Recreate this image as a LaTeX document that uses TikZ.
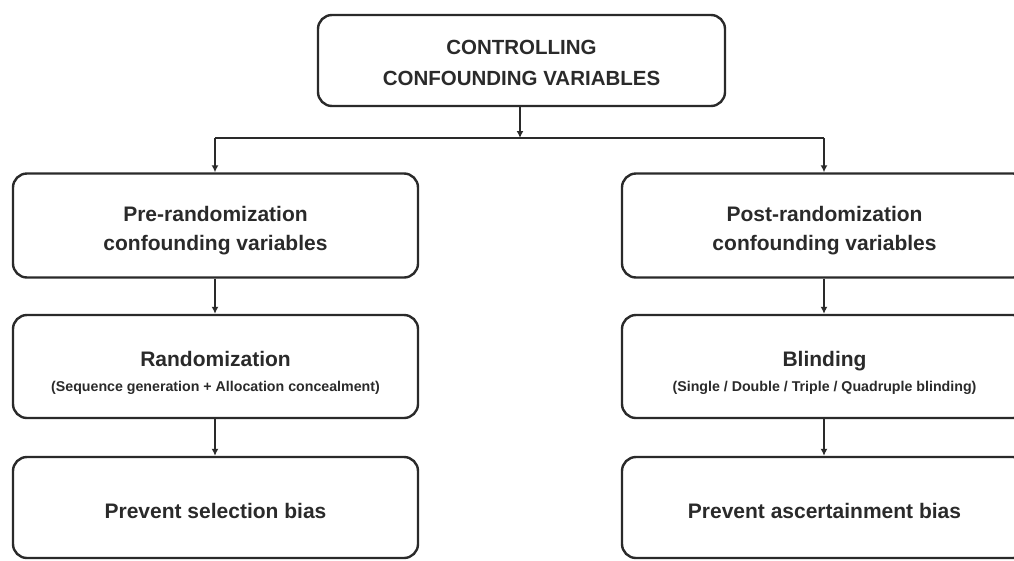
\documentclass[tikz,border=0pt]{standalone}
\usepackage{fontspec}
\setmainfont{Liberation Sans}
\usetikzlibrary{arrows.meta}
\definecolor{ink}{HTML}{2A2A2A}
\newcommand\subfnt{\bfseries\fontsize{14.2}{16}\selectfont}
\tikzset{
  box/.style={draw=ink, line width=2.4pt, rounded corners=14pt, minimum width=405pt},
  txt/.style={align=center, text=ink, inner sep=0pt, font=\bfseries\fontsize{21}{29}\selectfont},
  conn/.style={draw=ink, line width=2pt, -{Latex[length=7pt,width=7pt]}},
  plain/.style={draw=ink, line width=2pt}
}
\begin{document}
\begin{tikzpicture}[x=1pt,y=-1pt]
\useasboundingbox (0,0) rectangle (1014,560);
\begin{scope}
\clip (0,0) rectangle (1014,560);
\node[box, minimum width=407pt, minimum height=91pt] (top) at (521.5,60.5) {};
\node[box, minimum height=104pt] (l1) at (215.5,225.5) {};
\node[box, minimum height=104pt] (r1) at (824.5,225.5) {};
\node[box, minimum height=103pt] (l2) at (215.5,366.5) {};
\node[box, minimum height=103pt] (r2) at (824.5,366.5) {};
\node[box, minimum height=101pt] (l3) at (215.5,507.5) {};
\node[box, minimum height=101pt] (r3) at (824.5,507.5) {};
\end{scope}
\node[txt, font=\bfseries\fontsize{20.5}{31}\selectfont] (topt) at ([yshift=-2pt]top.center) {CONTROLLING\\CONFOUNDING VARIABLES};
\node[txt] (l1t) at ([yshift=-5pt]l1.center) {Pre-randomization\\confounding variables};
\node[txt] (r1t) at ([yshift=-5pt]r1.center) {Post-randomization\\confounding variables};
\node[txt] (l2t) at ([yshift=-6pt]l2.center) {Randomization\\[-4pt]{\subfnt (Sequence generation + Allocation concealment)}};
\node[txt] (r2t) at ([yshift=-6pt]r2.center) {Blinding\\[-4pt]{\subfnt (Single / Double / Triple / Quadruple blinding)}};
\node[txt] (l3t) at ([yshift=-3pt]l3.center) {Prevent selection bias};
\node[txt] (r3t) at ([yshift=-3pt]r3.center) {Prevent ascertainment bias};
\coordinate (split) at (520,138);
\coordinate (lc) at (215,138);
\coordinate (rc) at (824,138);
\draw[conn] (top.south -| split) -- (split);
\draw[plain] (lc) -- (rc);
\draw[conn] (lc) -- (lc |- l1.north);
\draw[conn] (rc) -- (rc |- r1.north);
\draw[conn] (l1.south -| lc) -- (l2.north -| lc);
\draw[conn] (r1.south -| rc) -- (r2.north -| rc);
\draw[conn] (l2.south -| lc) -- (l3.north -| lc);
\draw[conn] (r2.south -| rc) -- (r3.north -| rc);
\end{tikzpicture}
\end{document}
